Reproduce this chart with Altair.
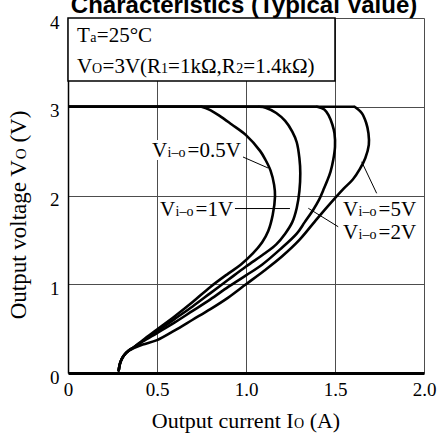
import altair as alt
import pandas as pd

# ---------------- data ----------------
curve_names = ["0.5V", "1V", "2V", "5V"]

# each curve: from the start-up knee, through the fold-back, up to where it meets Vo = 3 V
i_05 = [0.285, 0.29, 0.30, 0.315, 0.34, 0.37, 0.42, 0.5, 0.6, 0.7, 0.8, 0.9, 0.97, 1.04, 1.09, 1.125,
        1.15, 1.163, 1.158, 1.138, 1.11, 1.08, 1.0, 0.92, 0.85, 0.79, 0.75]
v_05 = [0.03, 0.09, 0.15, 0.20, 0.25, 0.29, 0.37, 0.49, 0.64, 0.80, 0.97, 1.12, 1.22, 1.35, 1.47, 1.6,
        1.78, 1.99, 2.12, 2.28, 2.40, 2.50, 2.68, 2.80, 2.90, 2.97, 3.0]

i_1 = [0.285, 0.29, 0.30, 0.315, 0.34, 0.37, 0.42, 0.5, 0.6, 0.7, 0.8, 0.9, 1.0, 1.1, 1.17, 1.22, 1.26,
       1.285, 1.30, 1.305, 1.30, 1.285, 1.26, 1.22, 1.17, 1.11, 1.075]
v_1 = [0.03, 0.09, 0.15, 0.20, 0.25, 0.29, 0.36, 0.47, 0.61, 0.75, 0.90, 1.05, 1.2, 1.34, 1.45, 1.57, 1.7,
       1.86, 2.05, 2.25, 2.42, 2.6, 2.72, 2.84, 2.93, 2.99, 3.0]

i_2 = [0.285, 0.29, 0.30, 0.315, 0.34, 0.37, 0.42, 0.5, 0.6, 0.7, 0.8, 0.9, 1.0, 1.09, 1.19, 1.285, 1.33,
       1.378, 1.41, 1.434, 1.455, 1.475, 1.49, 1.50, 1.497, 1.485, 1.465, 1.44, 1.40]
v_2 = [0.03, 0.09, 0.15, 0.20, 0.25, 0.29, 0.355, 0.45, 0.57, 0.70, 0.83, 0.97, 1.1, 1.22, 1.39, 1.57, 1.7,
       1.84, 1.95, 2.06, 2.16, 2.27, 2.4, 2.55, 2.7, 2.8, 2.9, 2.97, 3.0]

i_5 = [0.285, 0.29, 0.30, 0.315, 0.34, 0.37, 0.42, 0.5, 0.6, 0.7, 0.8, 0.9, 1.0, 1.1, 1.2, 1.3, 1.4, 1.5,
       1.55, 1.6, 1.64, 1.67, 1.69, 1.688, 1.675, 1.65, 1.61]
v_5 = [0.03, 0.09, 0.15, 0.20, 0.25, 0.28, 0.32, 0.37, 0.48, 0.60, 0.72, 0.85, 1.0, 1.15, 1.31, 1.5, 1.74,
       1.97, 2.08, 2.18, 2.3, 2.42, 2.57, 2.7, 2.82, 2.93, 3.0]

# regulated output level (horizontal part of every curve, back to Io = 0)
v_reg = 3.0

# labels of the curves: value text, anchor (left, baseline) in data units
label_vals = ["0.5V", "1V", "5V", "2V"]
label_i = [0.472, 0.517, 1.545, 1.545]
label_v = [2.434, 1.77, 1.77, 1.51]

# leader lines
lead_i1 = [0.983, 0.938, 1.734, 1.518]
lead_v1 = [2.434, 1.853, 2.025, 1.648]
lead_i2 = [1.124, 1.247, 1.65, 1.35]
lead_v2 = [2.31, 1.853, 2.38, 1.856]

# condition box
box_i = [0.0, 1.5]
box_v = [3.29, 4.0]

x_ticks = [0, 0.5, 1.0, 1.5, 2.0]
y_ticks = [0, 1, 2, 3, 4]

title_text = "Characteristics (Typical Value)"

# ---------------- layout helpers ----------------
W, H = 356, 355
XMAX, YMAX = 2.0, 4.0
PXA = W / XMAX
PXV = H / YMAX
SERIF = "Liberation Serif"

TIMES = {" ": 250, "(": 333, ")": 333, ",": 250, ".": 250, "=": 564, "°": 400, "–": 500, "Ω": 768,
         "A": 722, "C": 667, "I": 333, "O": 722, "R": 667, "T": 611, "V": 722,
         "a": 444, "c": 444, "e": 444, "g": 500, "i": 278, "k": 500, "l": 278, "n": 500, "o": 500,
         "p": 500, "r": 333, "t": 278, "u": 500, "v": 500}


def tw(s, size):
    return sum(TIMES.get(c, 500) for c in s) * size / 1000.0


def segments(parts, main, sub):
    """parts: list of (text, is_small, gap_before_em) -> [(text, size, offset_px)], total width"""
    out, off = [], 0.0
    for txt, small, gap in parts:
        sz = sub if small else main
        off += gap * main
        out.append((txt, sz, off))
        off += tw(txt, sz)
    return out, off


MAIN, SUB = 21, 14
rows = []
bg_rows = []
for k, val in enumerate(label_vals):
    segs, tot = segments([("V", False, 0), ("i–o", True, 0.02), ("=" + val, False, 0.1)], MAIN, SUB)
    for txt, sz, off in segs:
        rows.append(dict(I=label_i[k] + off / PXA, V=label_v[k], t=txt, s=sz))
    if val == "0.5V":
        bg_rows.append(dict(I=label_i[k] - 2 / PXA, I2=label_i[k] + (tot + 2) / PXA,
                            V=label_v[k] - 3 / PXV, V2=label_v[k] + 17 / PXV))

# condition text in the box
box_lines = [
    ([("T", False, 0), ("a", True, 0.02), ("=25°C", False, 0.02)], 0.05, 3.73),
    ([("V", False, 0), ("O", True, 0.0), ("=3V(R", False, 0.02), ("1", True, 0.0), ("=1kΩ,R", False, 0.0),
      ("2", True, 0.0), ("=1.4kΩ)", False, 0.0)], 0.05, 3.385),
]
for parts, i0, v0 in box_lines:
    segs, tot = segments(parts, MAIN, SUB)
    for txt, sz, off in segs:
        rows.append(dict(I=i0 + off / PXA, V=v0, t=txt, s=sz))

# x-axis title, centred under the plot
TM, TS = 22, 14
segs, tot = segments([("Output current I", False, 0), ("O", True, 0.02), ("(A)", False, 0.25)], TM, TS)
x0 = XMAX / 2 - (tot / 2) / PXA
for txt, sz, off in segs:
    rows.append(dict(I=x0 + off / PXA, V=-55 / PXV, t=txt, s=sz))

text_df = pd.DataFrame(rows)

# y-axis title (rotated)
yrows = []
segs, tot = segments([("Output voltage V", False, 0), ("O", True, 0.02), ("(V)", False, 0.25)], 23, 15)
v0 = 1.78 - (tot / 2) / PXV
for txt, sz, off in segs:
    yrows.append(dict(I=-42 / PXA, V=v0 + off / PXV, t=txt, s=sz))
ytitle_df = pd.DataFrame(yrows)

# curves table
crv = []
reg = []
for name, ii, vv in zip(curve_names, [i_05, i_1, i_2, i_5], [v_05, v_1, v_2, v_5]):
    for k, (a, b) in enumerate(zip(ii, vv)):
        crv.append(dict(c=name, o=k, I=a, V=b))
    reg.append(dict(c=name, I=0.0, I2=ii[-1], V=v_reg))
curve_df = pd.DataFrame(crv)
reg_df = pd.DataFrame(reg)

lead_df = pd.DataFrame(dict(I=lead_i1, V=lead_v1, I2=lead_i2, V2=lead_v2))
box_df = pd.DataFrame(dict(I=[box_i[0]], I2=[box_i[1]], V=[box_v[0]], V2=[box_v[1]]))
bg_df = pd.DataFrame(bg_rows)
title_df = pd.DataFrame(dict(I=[0.989], V=[(373 - 13) / PXV], t=[title_text]))

xs = alt.Scale(domain=[0, XMAX], nice=False, zero=False)
ys = alt.Scale(domain=[0, YMAX], nice=False, zero=False)

x_axis = alt.Axis(values=x_ticks, labelExpr="datum.value == 0 ? '0' : format(datum.value, '.1f')",
                  ticks=False, grid=True, gridColor="#4d4d4d", gridWidth=1, domainColor="black",
                  domainWidth=3, labelFont=SERIF, labelFontSize=19, labelColor="black", labelPadding=7,
                  title=None, labelFlush=False)
y_axis = alt.Axis(values=y_ticks, format="d", ticks=False, grid=True, gridColor="#4d4d4d", gridWidth=1,
                  domainColor="black", domainWidth=1.5, labelFont=SERIF, labelFontSize=19,
                  labelColor="black", labelPadding=9, labelOffset=4, title=None, labelFlush=False)

box = alt.Chart(box_df).mark_rect(fill="white", stroke="black", strokeWidth=1.5).encode(
    x=alt.X("I:Q", scale=xs, axis=x_axis), x2="I2", y=alt.Y("V:Q", scale=ys, axis=y_axis), y2="V2")

regline = alt.Chart(reg_df).mark_rule(color="black", strokeWidth=2.6).encode(
    x=alt.X("I:Q", scale=xs), x2="I2", y=alt.Y("V:Q", scale=ys))

curves = alt.Chart(curve_df).mark_line(color="black", strokeWidth=2.6, interpolate="catmull-rom",
                                       strokeJoin="round", strokeCap="round").encode(
    x=alt.X("I:Q", scale=xs), y=alt.Y("V:Q", scale=ys), detail="c:N", order="o:Q")

leads = alt.Chart(lead_df).mark_rule(color="black", strokeWidth=1).encode(
    x=alt.X("I:Q", scale=xs), x2="I2", y=alt.Y("V:Q", scale=ys), y2="V2")

bg = alt.Chart(bg_df).mark_rect(fill="white").encode(
    x=alt.X("I:Q", scale=xs), x2="I2", y=alt.Y("V:Q", scale=ys), y2="V2")

texts = alt.Chart(text_df).mark_text(align="left", baseline="alphabetic", font=SERIF, color="black").encode(
    x=alt.X("I:Q", scale=xs), y=alt.Y("V:Q", scale=ys), text="t:N", size=alt.Size("s:Q", scale=None))

ytitle = alt.Chart(ytitle_df).mark_text(align="left", baseline="alphabetic", font=SERIF, color="black",
                                        angle=270).encode(
    x=alt.X("I:Q", scale=xs), y=alt.Y("V:Q", scale=ys), text="t:N", size=alt.Size("s:Q", scale=None))

title = alt.Chart(title_df).mark_text(align="center", baseline="alphabetic", font="Liberation Sans",
                                      fontWeight="bold", fontSize=24, color="black").encode(
    x=alt.X("I:Q", scale=xs), y=alt.Y("V:Q", scale=ys), text="t:N")

chart = alt.layer(box, regline, curves, leads, bg, texts, ytitle, title).properties(
    width=W, height=H,
    autosize=alt.AutoSizeParams(type="none"),
    padding={"left": 68, "top": 18, "right": 15, "bottom": 60},
).configure_view(stroke="black", strokeWidth=1.5).configure(background="white")

chart.save("out.html", embed_options={"renderer": "svg", "actions": False})
